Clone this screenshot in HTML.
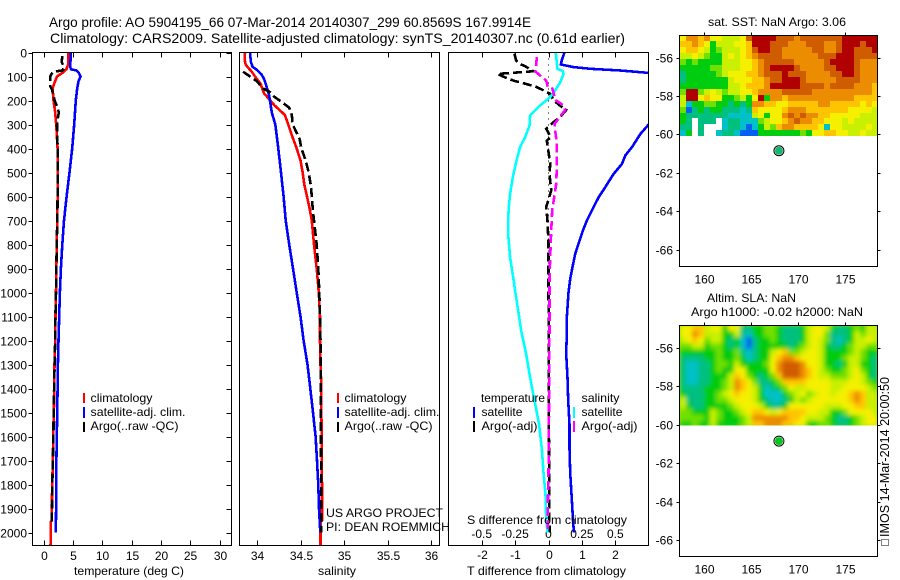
<!DOCTYPE html>
<html lang="en">
<head>
<meta charset="utf-8">
<title>Argo profile chart</title>
<style>
html,body{margin:0;padding:0;background:#fff;width:900px;height:580px;overflow:hidden}
svg{display:block}
text{font-family:"Liberation Sans",sans-serif;font-size:12px;fill:#000}
.t{font-size:14px}
</style>
</head>
<body>
<svg id="chart" xmlns="http://www.w3.org/2000/svg" width="900" height="580" viewBox="0 0 900 580">
<defs>
<clipPath id="clipT"><rect x="32.5" y="52.5" width="199" height="493"/></clipPath>
<clipPath id="clipS"><rect x="239.5" y="52.5" width="200" height="493"/></clipPath>
<clipPath id="clipD"><rect x="448.5" y="52.5" width="200" height="493"/></clipPath>
<clipPath id="clipSla"><rect x="679.5" y="325.5" width="198" height="100"/></clipPath>
<filter id="slaBlur" x="-5%" y="-5%" width="110%" height="110%"><feGaussianBlur stdDeviation="2.2"/></filter>
</defs>
<rect width="900" height="580" fill="#fff"/>
<text class="t" x="49" y="27" textLength="482" lengthAdjust="spacingAndGlyphs">Argo profile: AO 5904195_66 07-Mar-2014 20140307_299 60.8569S 167.9914E</text>
<text class="t" x="50" y="43" textLength="575" lengthAdjust="spacingAndGlyphs">Climatology: CARS2009. Satellite-adjusted climatology: synTS_20140307.nc (0.61d earlier)</text>
<g id="marks"></g>
<text x="74" y="575" textLength="110" lengthAdjust="spacingAndGlyphs">temperature (deg C)</text>
<text x="318" y="575" textLength="38" lengthAdjust="spacingAndGlyphs">salinity</text>
<text x="467" y="575" textLength="159" lengthAdjust="spacingAndGlyphs">T difference from climatology</text>
<text x="467" y="524" textLength="160" lengthAdjust="spacingAndGlyphs">S difference from climatology</text>

<rect x="83" y="393" width="2" height="10" fill="#f00"/>
<rect x="83" y="407" width="2" height="11" fill="#00f"/>
<rect x="83" y="422" width="2" height="10" fill="#000"/>
<text x="90.5" y="402" textLength="62" lengthAdjust="spacingAndGlyphs">climatology</text>
<text x="90.5" y="416" textLength="95" lengthAdjust="spacingAndGlyphs">satellite-adj. clim.</text>
<text x="90.5" y="430" textLength="88" lengthAdjust="spacingAndGlyphs">Argo(..raw -QC)</text>

<rect x="337" y="393" width="2" height="10" fill="#f00"/>
<rect x="337" y="407" width="2" height="11" fill="#00f"/>
<rect x="337" y="422" width="2" height="10" fill="#000"/>
<text x="344.5" y="402" textLength="62" lengthAdjust="spacingAndGlyphs">climatology</text>
<text x="344.5" y="416" textLength="95" lengthAdjust="spacingAndGlyphs">satellite-adj. clim.</text>
<text x="344.5" y="430" textLength="88" lengthAdjust="spacingAndGlyphs">Argo(..raw -QC)</text>
<text x="326" y="517" textLength="117" lengthAdjust="spacingAndGlyphs">US ARGO PROJECT</text>
<text x="326" y="531" textLength="124" lengthAdjust="spacingAndGlyphs">PI: DEAN ROEMMICH</text>

<text x="481" y="402" textLength="64" lengthAdjust="spacingAndGlyphs">temperature</text>
<text x="481.5" y="416" textLength="41" lengthAdjust="spacingAndGlyphs">satellite</text>
<text x="481.5" y="430" textLength="56" lengthAdjust="spacingAndGlyphs">Argo(-adj)</text>
<rect x="473" y="407" width="2" height="11" fill="#00f"/>
<rect x="473" y="421" width="2" height="11" fill="#000"/>
<text x="581.5" y="402" textLength="38" lengthAdjust="spacingAndGlyphs">salinity</text>
<text x="581.5" y="416" textLength="41" lengthAdjust="spacingAndGlyphs">satellite</text>
<text x="581.5" y="430" textLength="56" lengthAdjust="spacingAndGlyphs">Argo(-adj)</text>
<rect x="573" y="407" width="2" height="11" fill="#0ff"/>
<rect x="573" y="421" width="2" height="11" fill="#f0f"/>

<text x="708" y="26" textLength="138" lengthAdjust="spacingAndGlyphs">sat. SST: NaN Argo: 3.06</text>
<text x="707" y="302" textLength="89" lengthAdjust="spacingAndGlyphs">Altim. SLA: NaN</text>
<text x="691" y="316" textLength="172" lengthAdjust="spacingAndGlyphs">Argo h1000: -0.02 h2000: NaN</text>
<text transform="translate(889,537) rotate(-90)" font-size="13" style="font-size:13px" textLength="160" lengthAdjust="spacingAndGlyphs">IMOS 14-Mar-2014 20:00:50</text>
<rect x="881.5" y="539.5" width="7" height="6" fill="none" stroke="#000" stroke-width="1" stroke-dasharray="1 1" shape-rendering="crispEdges"/>
</svg>
<script>
// ---- Temperature panel data ----
const tempClimDepth = [0,50,70,85,100,125,150,200,250,300,400,500,600,700,800,900,1000,1100,1200,1300,1400,1500,1600,1700,1800,1900,1950,1955,2000,2056];
const tempClimValue = [4.2,4.2,3.9,3.2,2.3,1.9,1.55,1.7,2.0,2.16,2.4,2.4,2.4,2.35,2.25,2.2,2.13,2.05,2.0,1.88,1.83,1.77,1.65,1.6,1.48,1.42,1.4,1.26,1.26,1.2];
const tempSatDepth = [0,60,70,75,85,100,120,150,200,300,400,500,600,700,800,900,1000,1100,1200,1300,1400,1500,1600,1700,1800,1900,2000];
const tempSatValue = [4.67,4.55,4.7,5.6,6.03,6.3,5.97,5.75,5.5,5.24,4.9,4.43,3.93,3.5,3.2,2.96,2.8,2.68,2.56,2.45,2.4,2.33,2.27,2.2,2.16,2.14,2.1];
const tempArgoDepth = [15,40,60,75,80,100,140,155,200,230,250,280,300,400,500,600,700,800,900,1000,1100,1200,1300,1400,1500,1600,1700,1800,1900,1960];
const tempArgoValue = [3.2,3.1,3.5,3.25,1.6,1.14,1.14,1.45,1.9,2.4,2.6,2.4,2.3,2.4,2.4,2.4,2.35,2.25,2.2,2.13,2.03,2.0,1.9,1.8,1.72,1.68,1.6,1.5,1.45,1.4];
// ---- Salinity panel data ----
const salClimDepth = [0,30,50,60,80,100,130,170,190,220,260,300,350,400,450,500,550,600,650,700,800,900,1000,1100,1200,1300,1400,1500,1600,1700,1800,1900,1950,1955,2056];
const salClimValue = [33.862,33.858,33.87,33.89,33.94,33.977,34.04,34.08,34.13,34.2,34.32,34.36,34.406,34.456,34.5,34.525,34.544,34.575,34.605,34.63,34.655,34.686,34.71,34.724,34.724,34.73,34.74,34.74,34.743,34.743,34.747,34.747,34.747,34.73,34.73];
const salSatDepth = [0,40,60,70,90,110,130,180,250,300,400,500,600,700,800,900,1000,1100,1200,1300,1400,1500,1600,1700,1800,1900,2000];
const salSatValue = [33.92,33.93,33.95,33.99,34.05,34.08,34.1,34.14,34.17,34.21,34.245,34.276,34.306,34.33,34.37,34.414,34.456,34.5,34.536,34.58,34.613,34.644,34.674,34.69,34.705,34.713,34.728];
const salArgoDepth = [80,100,120,150,165,185,205,230,260,300,320,360,400,450,500,550,600,650,700,800,900,1000,1100,1200,1300,1500,1900,2000];
const salArgoValue = [33.84,33.92,34.0,34.07,34.15,34.2,34.28,34.37,34.4,34.41,34.437,34.49,34.51,34.56,34.594,34.617,34.63,34.64,34.655,34.686,34.705,34.716,34.724,34.73,34.734,34.735,34.738,34.738];
// ---- Difference panel data ----
const diffTSatDepth = [0,30,50,61,68,75,85,100,150,250,300,339,394,429,464,506,561,603,644,700,742,783,839,894,943,1000,1100,1158,1255,1355,1450,1550,1650,1750,1840,1940,2000];
const diffTSatValue = [0.48,0.4,0.37,0.75,1.25,2.15,3.0,4.0,4.2,3.5,3.0,2.75,2.5,2.3,2.2,1.95,1.7,1.5,1.35,1.15,1.03,0.93,0.8,0.72,0.65,0.6,0.55,0.55,0.53,0.57,0.59,0.63,0.63,0.65,0.69,0.73,0.76];
const diffTArgoDepth = [5,33,47,57,78,85,89,107,119,128,144,158,172,197,217,239,272,290,318,353,367,415,464,506,575,644,700,797,936,1500,2000];
const diffTArgoValue = [-1.02,-0.97,-0.87,-0.7,-0.45,-1.1,-1.53,-1.25,-1.0,-0.75,-0.35,-0.15,0.05,0.15,0.3,0.53,0.33,0.15,-0.07,0.07,-0.05,0,0.05,0.03,0.08,-0.07,-0.03,0,0,0.01,0.03];
const diffSSatDepth = [0,47,68,78,89,124,158,186,221,262,304,353,394,457,519,589,644,700,769,853,943,1000,1100,1158,1255,1355,1450,1550,1650,1750,1840,1940,2000];
const diffSSatValue = [0.055,0.0625,0.0675,0.1075,0.1125,0.0875,0.05,0.0125,-0.0625,-0.1375,-0.1425,-0.175,-0.2125,-0.2425,-0.2675,-0.2875,-0.2975,-0.3025,-0.3,-0.2875,-0.2625,-0.248,-0.22,-0.205,-0.1675,-0.1375,-0.105,-0.07,-0.05,-0.0375,-0.0225,-0.0175,-0.0075];
const diffSArgoDepth = [19,54,78,96,117,144,151,186,197,221,239,276,297,325,381,464,547,603,658,742,853,943,1158,1500,1750,1940,2000];
const diffSArgoValue = [-0.0875,-0.0925,-0.1,-0.0625,-0.0175,-0.005,0.03,0.045,0.05,0.1125,0.125,0.075,0.045,0.05,0.0625,0.0625,0.0575,0.0425,0.0275,0.02,0.0125,0.0075,0.0075,0.004,0,-0.007,-0.007];
// ---- Tick labels ----
const depthTicks = [0,100,200,300,400,500,600,700,800,900,1000,1100,1200,1300,1400,1500,1600,1700,1800,1900,2000];
const tempTicks = [0,5,10,15,20,25,30];
const salTicks = [34,34.5,35,35.5,36];
const salTickLabels = ['34','34.5','35','35.5','36'];
const diffTTicks = [-2,-1,0,1,2];
const diffSTicks = [-0.5,-0.25,0,0.25,0.5];
const diffSTickLabels = ['-0.5','-0.25','0','0.25','0.5'];
const lonTicks = [160,165,170,175];
const latTicks = [-56,-58,-60,-62,-64,-66];
// ---- Float position ----
const floatLon = 167.99;
const floatLat = -60.857;
// ---- Map grids (colour level per cell, -1 = no data) ----
const sstGrid = [
[6,8,8,7,8,6,6,5,5,5,6,9,10,10,10,10,9,9,9,8,9,9,9,9,9,9,9,10,10,10,10,10,10],
[7,7,8,7,6,3,5,5,5,6,6,7,10,10,10,9,9,9,8,8,8,9,9,9,8,8,9,10,10,10,9,10,10],
[6,7,7,6,5,3,4,5,5,5,6,7,9,10,10,9,9,8,8,8,8,8,9,9,8,8,9,10,10,9,9,9,10],
[5,5,6,5,4,3,3,5,6,5,6,7,8,9,9,9,9,8,8,8,8,8,8,9,9,9,10,10,10,9,9,9,9],
[4,3,4,3,3,3,3,5,5,5,6,6,7,8,9,9,9,9,9,8,8,8,8,8,9,10,10,10,10,9,8,8,8],
[3,3,3,3,3,4,4,5,5,5,6,6,7,8,9,10,10,10,10,9,8,8,8,8,9,9,10,10,10,9,8,8,8],
[2,3,3,3,3,3,4,5,6,6,6,7,7,8,9,9,9,10,9,9,9,8,8,8,8,9,9,10,10,9,8,8,8],
[2,3,3,3,3,3,3,3,5,6,6,6,7,7,8,9,9,10,10,10,9,8,8,8,8,8,9,9,9,9,8,8,8],
[3,3,3,3,3,3,3,3,5,5,6,7,7,7,8,10,10,10,10,10,9,9,9,9,8,9,9,9,9,8,8,8,7],
[4,10,10,4,5,6,5,4,5,5,6,6,7,8,8,8,8,9,9,9,9,9,8,8,8,8,8,8,8,8,8,8,7],
[5,10,10,6,7,6,6,3,3,4,5,3,6,10,3,8,8,7,8,8,8,8,8,8,8,8,8,8,8,7,7,7,7],
[5,1,3,3,4,4,3,3,2,3,2,3,8,8,7,7,6,6,7,7,7,7,7,8,8,7,7,7,7,7,6,7,6],
[4,0,2,3,2,3,3,2,2,2,1,2,7,6,6,6,6,7,8,8,8,7,7,7,7,7,7,7,6,6,6,6,5],
[3,2,2,2,2,2,2,2,1,1,1,1,5,6,3,6,6,8,9,8,9,8,8,7,7,6,6,6,6,6,5,5,5],
[3,2,-1,2,2,2,-1,1,2,2,1,1,1,4,5,6,6,7,8,9,8,8,7,7,6,6,6,5,6,5,5,5,5],
[2,2,-1,2,-1,-1,-1,1,2,2,1,0,1,3,5,4,7,8,8,7,7,7,7,6,1,6,6,5,5,5,5,6,5],
[1,3,-1,2,-1,-1,1,2,2,1,0,0,0,3,3,3,3,3,3,3,4,3,6,6,7,7,6,6,5,5,6,5,5]
];
const slaGrid = [
[6,6,7,7,5,6,6,3,6,6,2,2,3,3,4,4,3,2,2,2,3,5,6,6,5,3,2,2,3,4,3,5,5],
[6,6,8,7,5,5,5,3,3,5,2,1,3,3,4,4,3,2,2,2,3,5,6,6,4,2,2,2,3,5,4,5,5],
[5,6,7,6,4,5,5,3,2,3,1,0,2,3,3,4,3,2,2,2,3,5,6,5,4,2,1,2,3,5,5,6,5],
[4,4,5,5,3,4,4,3,2,3,1,0,2,3,3,3,3,3,2,3,4,5,6,5,3,2,2,3,4,5,5,4,4],
[3,3,3,3,3,3,4,3,3,4,2,1,2,3,3,5,6,7,4,4,5,6,6,5,3,3,3,3,4,5,4,3,3],
[2,2,2,2,3,3,4,3,3,4,3,1,2,3,3,6,7,8,8,7,6,6,6,5,3,3,3,4,5,5,4,3,2],
[2,1,1,2,2,3,4,4,3,5,3,3,3,3,4,6,8,9,9,9,8,6,6,5,3,3,2,3,5,5,3,3,2],
[2,1,1,2,2,3,4,3,3,6,6,3,3,3,3,6,8,9,9,9,8,7,6,5,4,3,3,4,5,6,4,3,2],
[2,1,1,2,2,3,3,3,5,7,6,4,3,2,3,4,7,9,9,9,8,7,6,5,5,4,4,4,5,6,5,3,2],
[2,1,1,2,2,3,3,4,5,8,7,6,4,2,2,3,4,7,7,7,7,6,6,6,6,5,5,5,6,6,5,4,3],
[2,2,2,2,3,3,3,4,5,8,7,6,5,3,1,2,3,4,6,5,5,6,6,6,6,5,5,6,6,6,6,5,4],
[3,2,2,2,3,3,4,5,6,7,6,6,5,3,1,1,1,3,4,5,6,4,5,6,6,5,6,6,7,8,7,5,5],
[5,2,2,2,3,3,4,4,5,6,6,6,5,3,2,1,1,2,3,5,4,5,6,6,6,6,6,6,7,8,7,5,5],
[5,3,2,2,3,3,3,3,4,5,6,6,6,5,3,2,2,3,6,6,6,6,6,6,5,5,5,6,6,7,7,5,5],
[4,4,3,3,3,5,4,3,3,4,5,6,7,7,6,5,6,7,7,7,7,6,6,5,5,3,3,4,6,6,6,6,5],
[4,4,4,4,3,5,4,3,3,3,4,5,8,8,8,8,8,8,7,7,6,5,5,5,4,3,2,2,3,4,5,6,6],
[3,3,4,3,3,5,3,3,3,3,4,5,7,7,8,8,8,7,7,6,6,3,3,4,4,3,2,2,3,4,5,6,6]
];
const mapPalette = ['#0060f0','#00c0c8','#00c080','#00cc10','#70e000','#c8f000','#f4f000','#ffc400','#ec8c00','#d05c00','#b00000'];

// ---- Axis functions ----
const SVGNS = 'http://www.w3.org/2000/svg';
const root = document.getElementById('marks');
function yDepth(d){ return 52.5 + 0.24*d; }
function xTemp(t){ return 43.5 + 5.867*t; }
function xSal(s){ return 257 + 87*(s-34); }
function xDiffT(t){ return 548.5 + 33.4*t; }
function xDiffS(s){ return 548.5 + 133.6*s; }
function xLon(lon){ return 703.5 + 9.44*(lon-160); }
function yLat1(lat){ return 57.5 + 19.2*(-56-lat); }
function yLat2(lat){ return 347.5 + 19.27*(-56-lat); }

function line(name,x1,y1,x2,y2){
  const el = document.createElementNS(SVGNS,'line');
  
  
  el.setAttribute('x1',x1); el.setAttribute('y1',y1);
  el.setAttribute('x2',x2); el.setAttribute('y2',y2);
  el.setAttribute('stroke','#000');
  el.setAttribute('stroke-width','1');
  el.setAttribute('shape-rendering','crispEdges');
  root.appendChild(el);
}
function frame(name,x,y,w,h){
  const el = document.createElementNS(SVGNS,'rect');
  
  
  el.setAttribute('x',x); el.setAttribute('y',y);
  el.setAttribute('width',w); el.setAttribute('height',h);
  el.setAttribute('fill','none');
  el.setAttribute('stroke','#000');
  el.setAttribute('stroke-width','1');
  el.setAttribute('shape-rendering','crispEdges');
  root.appendChild(el);
}
function label(name,str,x,y,anchor){
  const el = document.createElementNS(SVGNS,'text');
  
  
  el.setAttribute('x',x); el.setAttribute('y',y);
  el.setAttribute('text-anchor',anchor);
  el.textContent = str;
  root.appendChild(el);
}
function series(name,depths,values,xFn,color,width,clip,dash){
  const el = document.createElementNS(SVGNS,'polyline');
  
  
  el.setAttribute('points',depths.map((d,i)=>xFn(values[i]).toFixed(1)+','+yDepth(d).toFixed(1)).join(' '));
  el.setAttribute('fill','none');
  el.setAttribute('stroke',color);
  el.setAttribute('stroke-width',width);
  el.setAttribute('clip-path','url(#'+clip+')');
  el.setAttribute('shape-rendering','crispEdges');
  if(dash) el.setAttribute('stroke-dasharray',dash);
  root.appendChild(el);
}
function heatmap(name,grid,yFn,parent){
  const rows = grid.length, cols = grid[0].length;
  const dLon = 21/cols, dLat = 5.25/rows;
  grid.forEach((row,j)=>{
    row.forEach((v,i)=>{
      if(v<0) return;
      const x0 = Math.round(xLon(157.5+i*dLon)), x1 = Math.round(xLon(157.5+(i+1)*dLon));
      const y0 = Math.round(yFn(-54.85-j*dLat)), y1 = Math.round(yFn(-54.85-(j+1)*dLat));
      const el = document.createElementNS(SVGNS,'rect');
      
      
      el.setAttribute('x',x0); el.setAttribute('y',y0);
      el.setAttribute('width',x1-x0); el.setAttribute('height',y1-y0);
      el.setAttribute('fill',mapPalette[v]);
      parent.appendChild(el);
    });
  });
}
function marker(name,cx,cy,color){
  const ring = document.createElementNS(SVGNS,'circle');
  
  
  ring.setAttribute('cx',cx); ring.setAttribute('cy',cy); ring.setAttribute('r',5);
  ring.setAttribute('fill','#fff'); ring.setAttribute('stroke','#000'); ring.setAttribute('stroke-width','1');
  root.appendChild(ring);
  const dot = document.createElementNS(SVGNS,'circle');
  
  
  dot.setAttribute('cx',cx); dot.setAttribute('cy',cy); dot.setAttribute('r',4);
  dot.setAttribute('fill',color);
  root.appendChild(dot);
}

// ---- Temperature panel ----
depthTicks.forEach(d=>{
  const y = Math.round(yDepth(d))+0.5;
  line('temperature-left-tick',28.5,y,32.5,y);
  line('temperature-right-tick',226.5,y,231.5,y);
  label('depth-tick-label',String(d),27,y+4,'end');
});
tempTicks.forEach(t=>{
  const x = Math.round(xTemp(t))+0.5;
  line('temperature-top-tick',x,52.5,x,57.5);
  line('temperature-bottom-tick',x,540.5,x,545.5);
  label('temperature-tick-label',String(t),x,560,'middle');
});
series('temperature-climatology-line',tempClimDepth,tempClimValue,xTemp,'#f00',2.6,'clipT');
series('temperature-satellite-line',tempSatDepth,tempSatValue,xTemp,'#00f',2.6,'clipT');
series('temperature-argo-line',tempArgoDepth,tempArgoValue,xTemp,'#000',2.6,'clipT','9 4');
frame('temperature-panel-frame',32.5,52.5,199,493);

// ---- Salinity panel ----
salTicks.forEach((s,i)=>{
  const x = Math.round(xSal(s))+0.5;
  line('salinity-top-tick',x,52.5,x,57.5);
  line('salinity-bottom-tick',x,540.5,x,545.5);
  label('salinity-tick-label',salTickLabels[i],x,560,'middle');
});
series('salinity-climatology-line',salClimDepth,salClimValue,xSal,'#f00',2.6,'clipS');
series('salinity-satellite-line',salSatDepth,salSatValue,xSal,'#00f',2.6,'clipS');
series('salinity-argo-line',salArgoDepth,salArgoValue,xSal,'#000',2.6,'clipS','9 4');
frame('salinity-panel-frame',239.5,52.5,200,493);

// ---- Difference panel ----
diffTTicks.forEach(t=>{
  const x = Math.round(xDiffT(t))+0.5;
  line('t-difference-top-tick',x,52.5,x,57.5);
  line('t-difference-bottom-tick',x,540.5,x,545.5);
  label('t-difference-tick-label',String(t),x,559,'middle');
});
diffSTicks.forEach((s,i)=>{
  label('s-difference-tick-label',diffSTickLabels[i],xDiffS(s),538,'middle');
});
const zeroLine = document.createElementNS(SVGNS,'line');


zeroLine.setAttribute('x1',xDiffT(0)); zeroLine.setAttribute('y1',yDepth(0));
zeroLine.setAttribute('x2',xDiffT(0)); zeroLine.setAttribute('y2',yDepth(2000));
zeroLine.setAttribute('stroke','#000');
zeroLine.setAttribute('stroke-dasharray','1 5');
zeroLine.setAttribute('shape-rendering','crispEdges');
root.appendChild(zeroLine);
series('t-difference-satellite-line',diffTSatDepth,diffTSatValue,xDiffT,'#00f',2.6,'clipD');
series('t-difference-argo-line',diffTArgoDepth,diffTArgoValue,xDiffT,'#000',2.6,'clipD','9 4');
series('s-difference-satellite-line',diffSSatDepth,diffSSatValue,xDiffS,'#0ff',2.6,'clipD');
series('s-difference-argo-line',diffSArgoDepth,diffSArgoValue,xDiffS,'#f0f',2.6,'clipD','9 4');
frame('difference-panel-frame',448.5,52.5,200,493);

// ---- Maps ----
function mapAxes(prefix,top,bottom,yFn){
  lonTicks.forEach(lon=>{
    const x = Math.round(xLon(lon))+0.5;
    line(prefix+'-top-tick',x,top-3,x,top);
    label(prefix+'-longitude-label',String(lon),x,bottom+17,'middle');
  });
  latTicks.forEach(lat=>{
    const y = Math.round(yFn(lat))+0.5;
    line(prefix+'-left-tick',676.5,y,679.5,y);
    line(prefix+'-right-tick',877.5,y,880.5,y);
    label(prefix+'-latitude-label',String(lat),673,y+4,'end');
  });
  frame(prefix+'-frame',679.5,top,198,bottom-top);
}
heatmap('sst-cell',sstGrid,yLat1,root);
mapAxes('sst-map',35.5,266.5,yLat1);
marker('sst-float-marker',xLon(floatLon),yLat1(floatLat),'#10b870');

const slaClip = document.createElementNS(SVGNS,'g');


slaClip.setAttribute('clip-path','url(#clipSla)');
root.appendChild(slaClip);
const slaBase = document.createElementNS(SVGNS,'rect');


slaBase.setAttribute('x',679.5); slaBase.setAttribute('y',325.5);
slaBase.setAttribute('width',198); slaBase.setAttribute('height',100);
slaBase.setAttribute('fill','#90e400');
slaClip.appendChild(slaBase);
const slaCells = document.createElementNS(SVGNS,'g');


slaCells.setAttribute('filter','url(#slaBlur)');
slaClip.appendChild(slaCells);
heatmap('sla-cell',slaGrid,yLat2,slaCells);
mapAxes('sla-map',325.5,556.5,yLat2);
marker('sla-float-marker',xLon(floatLon),yLat2(floatLat),'#00c820');
</script>
</body>
</html>
